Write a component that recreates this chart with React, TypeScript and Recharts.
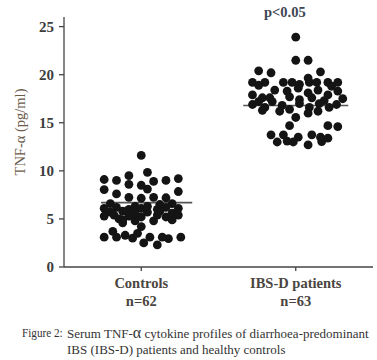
import { ScatterChart, Scatter, XAxis, YAxis, ReferenceLine } from 'recharts'

// dot plot: each point is [column slot, TNF-a value]; slot = horizontal jitter column
const groups = ['Controls', 'IBS-D patients']
const groupN = ['n=62', 'n=63']
const yTicks = [0, 5, 10, 15, 20, 25]
const means = [6.7, 16.8]

const controls: [number, number][] = [
  [0, 11.6], [0.5, 9.85], [-1, 9.5], [-3, 9.1], [-2, 9.0], [1, 8.9], [2, 9.0], [3, 9.2],
  [-1, 8.6], [0, 8.5], [0.5, 8.1], [-3, 8.05], [3, 7.85], [-2, 7.6], [-1, 7.25], [0, 7.15],
  [1, 7.25], [2, 7.2], [-2.5, 6.6], [1.5, 6.5], [2.5, 6.6],
  [-3, 6.1], [-2, 6.2], [-1, 6.0], [-0.5, 6.3], [0, 6.1], [0.5, 6.3], [1.3, 6.0], [2, 6.2], [3, 6.1],
  [-2.5, 5.7], [-1.5, 5.8], [-0.5, 5.6], [0.5, 5.7], [1.5, 5.8], [2.5, 5.6],
  [-3, 5.3], [-2.2, 5.4], [-1, 5.3], [0, 5.2], [1.3, 5.4], [2, 5.2], [3, 5.4], [-1.8, 5.0],
  [-1.5, 4.9], [1, 4.8], [2.5, 4.9], [-0.5, 4.8], [-1.5, 4.6], [0, 4.2], [-2.3, 3.7],
  [-3, 3.1], [-2, 3.1], [-1.3, 3.3], [-0.7, 3.0], [0.7, 3.1], [1.7, 3.1], [2.2, 2.95], [3.2, 3.1],
  [0.2, 2.5], [1.3, 2.3], [-0.3, 3.5],
]

const ibsD: [number, number][] = [
  [0, 23.9], [0, 21.5], [1, 21.5], [-3, 20.4], [-2, 20.2], [2, 20.3], [1, 19.65],
  [-3.5, 19.2], [-2.5, 19.2], [-1, 19.2], [-0.3, 19.2], [1.1, 19.2], [1.7, 19.2], [2.6, 19.2], [3.4, 19.2],
  [-3, 18.9], [0.3, 19.0], [2.9, 18.8],
  [-3.5, 17.9], [-2.7, 17.6], [-1.7, 18.4], [-0.7, 18.3], [0.2, 18.6], [1, 18.1], [1.8, 18.4], [2.6, 17.9], [3.4, 18.3],
  [-3, 17.2], [0.3, 17.4], [3.8, 17.5], [-2.1, 17.6], [-0.5, 17.7], [1.3, 17.6], [2.3, 17.3],
  [-3.5, 16.9], [-2.5, 16.6], [-1.9, 17.2], [-1.1, 16.8], [-0.5, 16.4], [0.3, 17.0], [1.1, 16.6], [1.9, 17.0], [2.7, 16.6], [3.3, 16.9],
  [-2.7, 16.3], [1, 16.0], [-1.3, 16.2], [1.8, 16.2],
  [0, 15.55], [-0.5, 14.7], [2.6, 14.7], [3.4, 14.6],
  [-2, 13.75], [-1, 13.75], [0.2, 13.5], [1.3, 13.75], [2, 13.5], [2.6, 13.4],
  [-1.5, 13.0], [-0.7, 13.1], [1, 12.7], [2.1, 13.05], [-0.2, 13.0],
]

const SLOT = 0.08

const toPoints = (rows: [number, number][], group: number) =>
  rows.map(([slot, v]) => ({ x: group + slot * SLOT, y: v }))

const Dot = (props: any) => <circle cx={props.cx} cy={props.cy} r={4.4} fill="#141414" />

const serif = "'Liberation Serif', serif"

const CategoryTick = (props: any) => {
  const { x, y, payload } = props
  const i = payload.value - 1
  return (
    <g>
      <text x={x} y={y + 15} textAnchor="middle" fontFamily={serif} fontWeight="bold" fontSize={14.5} fill="#4a4540">
        {groups[i]}
      </text>
      <text x={x} y={y + 33} textAnchor="middle" fontFamily={serif} fontWeight="bold" fontSize={14.5} fill="#4a4540">
        {groupN[i]}
      </text>
    </g>
  )
}

export default function App() {
  return (
    <div style={{ position: 'absolute', left: 0, top: 0, width: 377, height: 360, background: '#fff' }}>
      <ScatterChart width={377} height={312} margin={{ top: 17, right: 4, bottom: 3, left: 4 }}>
        <XAxis
          type="number"
          dataKey="x"
          domain={[0.5, 2.5]}
          ticks={[1, 2]}
          tick={<CategoryTick />}
          tickSize={4}
          stroke="#444"
          strokeWidth={1.3}
          height={42}
        />
        <YAxis
          type="number"
          dataKey="y"
          domain={[0, 26]}
          ticks={yTicks}
          width={60}
          tickSize={5}
          tickMargin={5}
          stroke="#444"
          strokeWidth={1.3}
          tick={{ fontFamily: serif, fontWeight: 'bold', fontSize: 15, fill: '#3d3d3d' }}
          label={{
            content: () => (
              <text
                x={22}
                y={132}
                transform="rotate(-90 22 132)"
                textAnchor="middle"
                dominantBaseline="middle"
                fontFamily={serif}
                fontSize={14.5}
                fill="#6b5b4b"
              >
                TNF-α (pg/ml)
              </text>
            ),
          }}
        />
        <Scatter data={toPoints(controls, 1)} shape={<Dot />} isAnimationActive={false} />
        <Scatter data={toPoints(ibsD, 2)} shape={<Dot />} isAnimationActive={false} />
        <ReferenceLine segment={[{ x: 0.74, y: means[0] }, { x: 1.33, y: means[0] }]} stroke="#555" strokeWidth={1.6} />
        <ReferenceLine segment={[{ x: 1.66, y: means[1] }, { x: 2.34, y: means[1] }]} stroke="#555" strokeWidth={1.6} />
      </ScatterChart>
      <div style={{ position: 'absolute', left: 264, top: 4, fontFamily: serif, fontWeight: 'bold', fontSize: 14.5, color: '#3e4654' }}>
        p&lt;0.05
      </div>
      <div
        style={{
          position: 'absolute', left: 22, top: 325, fontFamily: serif, fontSize: 13, color: '#333',
          lineHeight: '16px', whiteSpace: 'nowrap', transform: 'scaleX(0.86)', transformOrigin: 'left top',
        }}
      >
        Figure 2:
      </div>
      <div
        style={{
          position: 'absolute', left: 67, top: 325, fontFamily: serif, fontSize: 13, color: '#333',
          lineHeight: '16px', whiteSpace: 'nowrap',
        }}
      >
        Serum TNF-<span style={{ fontSize: 16, lineHeight: '16px' }}>α</span> cytokine profiles of diarrhoea-predominant
        <br />
        IBS (IBS-D) patients and healthy controls
      </div>
    </div>
  )
}
